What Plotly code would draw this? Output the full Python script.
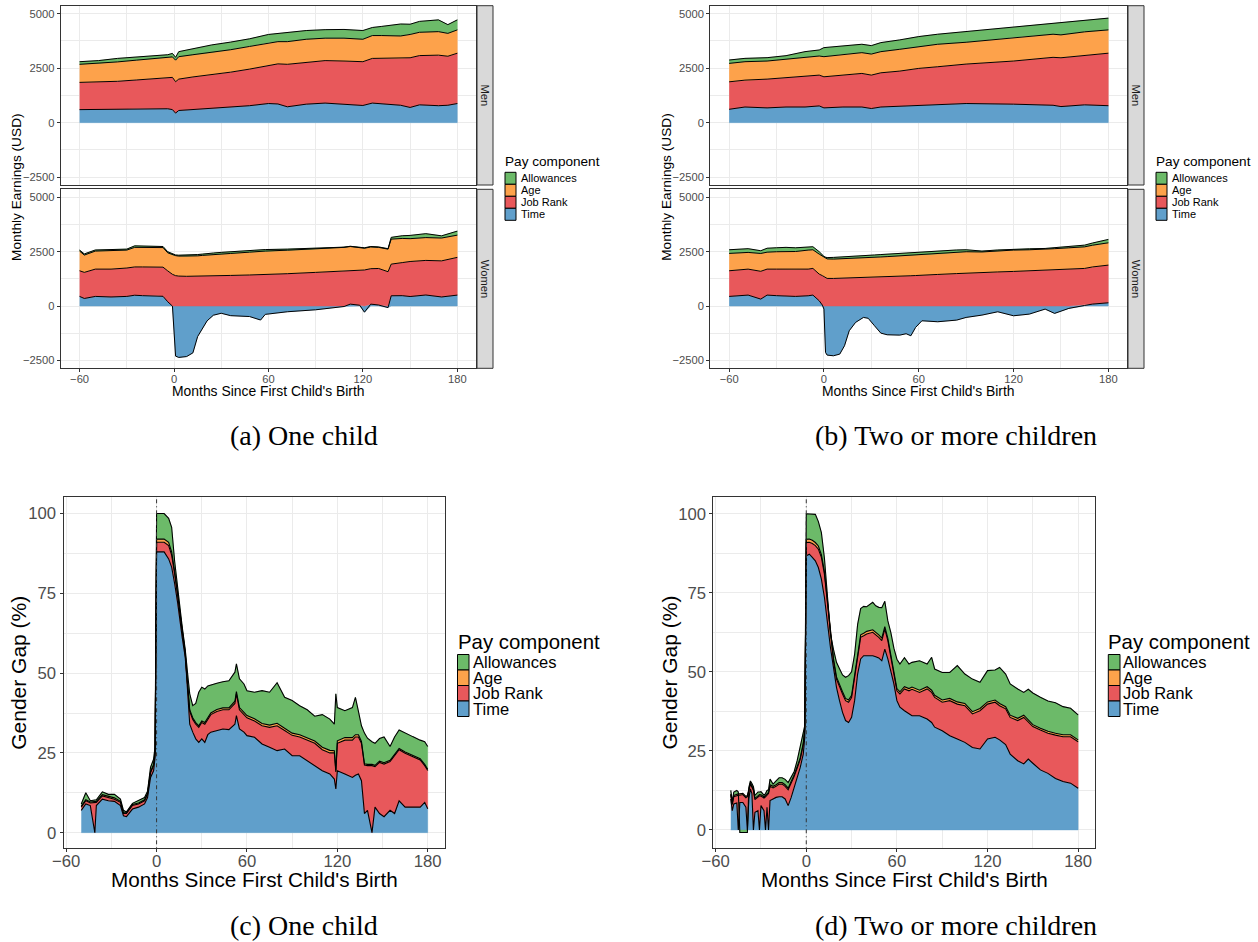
import plotly.graph_objects as go

W, H = 1258, 942
FONT = "Liberation Sans"
SERIF = "Liberation Serif"

COMPONENTS = ["Time", "Job Rank", "Age", "Allowances"]
FILLS = ["#609FCB", "#E8585B", "#FDA24B", "#6CBA69"]
LEGEND_ITEMS = ["Allowances", "Age", "Job Rank", "Time"]
LEGEND_FILLS = ["#6CBA69", "#FDA24B", "#E8585B", "#609FCB"]

X_TICKS = [-60, 0, 60, 120, 180]
X_MINOR = [-30, 30, 90, 150]
EARN_TICKS = [-2500, 0, 2500, 5000]
EARN_MINOR = [-1250, 1250, 3750]
GAP_TICKS = [0, 25, 50, 75, 100]
GAP_MINOR = [12.5, 37.5, 62.5, 87.5]

# ---------------- (a) One child : Men (USD) ----------------
a_men_month = [-60, -48, -36, -24, -12, -4, -1, 1, 3, 12, 24, 36, 48, 60, 66, 72, 84, 96, 108, 120,
               126, 132, 144, 150, 156, 168, 174, 180]
a_men_time = [600, 610, 620, 640, 650, 640, 600, 440, 560, 600, 650, 700, 780, 880, 860, 730, 850, 900, 860, 790,
              900, 870, 800, 700, 820, 780, 800, 880]
a_men_jobrank = [1250, 1260, 1280, 1320, 1370, 1420, 1480, 1440, 1440, 1500, 1550, 1620, 1680, 1760, 1840, 1950,
                 1930, 1950, 1970, 2010, 2050, 2080, 2150, 2280, 2260, 2320, 2250, 2310]
a_men_age = [830, 850, 890, 910, 920, 930, 940, 990, 1030, 1020, 1020, 1030, 1040, 1030, 1020, 1040, 1050, 1030,
             1050, 1030, 1050, 1050, 1030, 1070, 1070, 1080, 1050, 1070]
a_men_allow = [120, 130, 160, 140, 150, 130, 160, 130, 230, 280, 350, 350, 350, 380, 380, 430, 400, 390, 400, 400,
               370, 420, 550, 470, 500, 540, 400, 460]

# ---------------- (a) One child : Women (USD) ----------------
a_wom_month = [-60, -57, -50, -40, -30, -25, -20, -10, -7, -4, -1, 1, 3, 8, 12, 15, 18, 21, 25, 30, 36, 48, 55,
               58, 72, 90, 108, 112, 118, 121, 125, 130, 136, 138, 145, 150, 160, 170, 180]
a_wom_time = [445, 350, 445, 420, 445, 500, 480, 480, 450, 200, 0, -2300, -2360, -2320, -2150, -1400, -1060, -680,
              -420, -330, -440, -480, -640, -380, -260, -170, -20, 90, 40, -280, 90, 50, -70, 475, 480, 440, 510,
              420, 505]
a_wom_jobrank = [1180, 1200, 1255, 1280, 1305, 1300, 1320, 1320, 1340, 1420, 1460, 1400, 1380, 1370, 1380, 1380,
                 1390, 1390, 1395, 1395, 1410, 1430, 1440, 1450, 1490, 1550, 1620, 1560, 1600, 1660, 1630, 1680,
                 1580, 1455, 1520, 1610, 1590, 1660, 1735]
a_wom_age = [905, 795, 830, 840, 825, 900, 900, 920, 900, 830, 890, 920, 920, 920, 920, 930, 940, 960, 975, 995,
             1010, 1050, 1080, 1080, 1080, 1070, 1080, 1090, 1060, 1000, 1000, 970, 1040, 1150, 1110, 1050, 1050,
             1050, 1023]
a_wom_allow = [45, 55, 50, 60, 45, 70, 70, 50, 50, 50, 50, 30, 40, 50, 60, 60, 60, 70, 70, 80, 80, 70, 60, 70, 50,
               30, 10, 10, 10, 20, 20, 20, 20, 80, 125, 150, 180, 100, 184]

# ---------------- (b) Two or more children : Men (USD) ----------------
b_men_month = [-60, -50, -36, -24, -12, -3, 0, 12, 24, 30, 36, 48, 60, 72, 90, 120, 145, 150, 165, 180]
b_men_time = [615, 720, 680, 720, 720, 770, 680, 720, 720, 650, 720, 760, 800, 840, 880, 850, 800, 740, 820, 780]
b_men_jobrank = [1261, 1233, 1320, 1340, 1418, 1414, 1427, 1460, 1541, 1534, 1570, 1609, 1692, 1728, 1811, 1980,
                 2200, 2240, 2280, 2410]
b_men_age = [846, 847, 830, 862, 862, 877, 923, 958, 954, 966, 971, 1000, 1000, 1032, 1001, 1077, 1061, 1050, 1070,
             1070]
b_men_allow = [154, 153, 154, 154, 261, 277, 415, 400, 385, 388, 415, 431, 461, 461, 492, 477, 477, 540, 530, 540]

# ---------------- (b) Two or more children : Women (USD) ----------------
b_wom_month = [-60, -55, -48, -40, -36, -30, -24, -18, -10, -7, -3, -1, 0, 1, 2, 6, 10, 13, 16, 20, 25, 28, 32,
               36, 40, 48, 52, 55, 58, 62, 72, 84, 90, 100, 110, 120, 130, 140, 146, 155, 165, 170, 180]
b_wom_time = [445, 475, 506, 322, 506, 480, 475, 445, 475, 506, 245, 46, -138, -2130, -2253, -2284, -2207, -1824,
              -1134, -751, -521, -560, -905, -1242, -1318, -1334, -1270, -1364, -981, -675, -720, -644, -521, -414,
              -261, -445, -368, -138, -336, -106, 30, 92, 152]
b_wom_jobrank = [1180, 1185, 1194, 1278, 1194, 1220, 1225, 1235, 1225, 1226, 1225, 1354, 1364, 1290, 1272, 1272,
                 1280, 1285, 1290, 1295, 1305, 1310, 1320, 1330, 1340, 1370, 1385, 1395, 1405, 1425, 1455, 1495,
                 1518, 1540, 1570, 1594, 1620, 1650, 1670, 1700, 1702, 1708, 1732]
b_wom_age = [797, 780, 768, 820, 780, 800, 820, 830, 875, 858, 920, 890, 874, 910, 898, 889, 890, 895, 900, 905,
             915, 920, 925, 930, 935, 940, 940, 940, 940, 940, 945, 965, 982, 950, 970, 981, 970, 960, 970, 980,
             993, 1000, 1026]
b_wom_allow = [168, 160, 172, 125, 180, 183, 180, 170, 125, 140, 110, 40, 46, 50, 60, 77, 80, 80, 80, 90, 100, 100,
               105, 110, 115, 120, 125, 125, 135, 135, 130, 120, 90, 40, 40, 45, 45, 40, 50, 60, 78, 100, 155]

# ---------------- (c) One child : Gender gap (%) ----------------
c_month = [-50, -47, -44, -41, -40, -36, -32, -28, -24, -22, -20, -16, -12, -8, -6, -4, -2, -1, 0, 5,
           8, 10, 12, 14, 17, 19, 20, 21, 22, 24, 26, 28, 30, 32, 34, 36, 40, 44, 48, 52,
           53, 55, 58, 60, 65, 70, 75, 80, 85, 90, 95, 100, 105, 110, 115, 118, 119, 120, 125, 130,
           132, 134, 136, 138, 140, 143, 145, 148, 151, 155, 158, 161, 165, 170, 175, 178, 180]
c_time = [7, 9, 8.5, 0, 8.5, 10.5, 10, 9.8, 8.5, 5.3, 5, 7.4, 8, 9, 11, 17.3, 19.4, 23.6, 88, 88,
          85.8, 83.2, 78, 72, 61.2, 55, 48.7, 40.3, 34, 31.5, 29.4, 28.3, 29.4, 28.3, 30.7, 31.5, 32, 32.5, 32.3, 34,
          36.7, 32.5, 31.5, 30.4, 29.9, 27.8, 26.8, 25.7, 26.2, 24.1, 24.1, 22.6, 21, 19.4, 18.4, 16.8, 13.7, 19.4,
          18.4, 17.3, 18, 18.4, 16.3, 6, 7, 0, 8, 6, 5, 7, 6, 10, 8, 8, 8, 9.5, 7.5]
c_jobrank = [1, 1, 0.8, 9.3, 1, 1, 1, 0.7, 1, 0.7, 1, 1.1, 1, 1, 1, 1.5, 1.6, 1.4, 3, 3,
             4.2, 3.8, 3, 2.5, 1.8, 1, 0.8, 1.7, 4, 4, 4.6, 4.7, 5.1, 5.7, 4.8, 5.5, 6, 6, 6.2, 6.5,
             6.8, 6, 5.5, 5.6, 5.1, 5.7, 6.2, 7.8, 5.8, 6.4, 5.9, 6.4, 7, 6.6, 6.6, 8.2, 5.3, 8.6, 10.6, 11.7,
             12, 11.6, 11.7, 15.2, 14, 21, 12.7, 16, 16.5, 15.3, 18, 16, 16.9, 15.8, 14.8, 11.5, 12]
c_age = [0.3, 0.3, 0.3, 0.3, 0.3, 0.4, 0.4, 0.4, 0.3, 0.2, 0.2, 0.3, 0.3, 0.3, 0.3, 0.3, 0.4, 0.4, 1, 1,
         1, 1, 0.8, 0.5, 0.4, 0.5, 0.5, 0.5, 0.5, 0.5, 0.5, 0.5, 0.5, 0.5, 0.5, 0.5, 0.6, 0.6, 0.6, 0.7,
         0.7, 0.7, 0.7, 0.7, 0.7, 0.7, 0.7, 0.8, 0.7, 0.7, 0.7, 0.7, 0.7, 0.8, 0.8, 0.7, 0.5, 0.8, 0.8, 0.8,
         0.7, 0.7, 0.6, 0.4, 0.4, 0.4, 0.4, 0.4, 0.4, 0.4, 0.4, 0.4, 0.4, 0.4, 0.4, 0.4, 0.4]
c_allow = [0.7, 2.2, 0.4, 0.6, 0.5, 0.9, 0.6, 1.1, 0.7, 0.8, 0.3, 0.4, 0.7, 0.7, 0.7, 1.4, 1.6, 1.6, 8, 8,
           7.5, 7.7, 3.2, 1, 1.1, 1, 1.5, 5.5, 5, 3.8, 6, 10.5, 10.6, 10.5, 10, 8.7, 8.2, 8.2, 8.5, 9.1,
           8.7, 9, 8.9, 7.8, 8.3, 10.3, 10.3, 12.7, 9.7, 10.2, 9.1, 8.8, 7.8, 10.2, 9.8, 8.3, 24, 10.4, 8.4, 9.4,
           11.7, 7.3, 4.9, 9.6, 8.2, 7.1, 6.9, 7.1, 8.1, 4.3, 5.6, 5.8, 5.9, 5.9, 5.8, 7.1, 7.1]

# ---------------- (d) Two or more children : Gender gap (%) ----------------
d_month = [-50, -49, -48, -46, -45, -44, -42, -40, -39, -38, -37, -36, -35, -34, -32, -31, -30, -28, -27, -26,
           -25, -24, -22, -20, -18, -16, -14, -12, -10, -8, -6, -4, -2, -1, 0, 2, 4, 6, 8, 10,
           12, 14, 16, 18, 20, 22, 24, 26, 28, 30, 32, 34, 36, 38, 40, 44, 46, 48, 50, 52,
           54, 56, 58, 60, 62, 65, 68, 70, 75, 80, 83, 85, 90, 95, 100, 105, 110, 115, 120, 125,
           128, 132, 135, 140, 144, 147, 150, 155, 160, 165, 170, 175, 180]
d_time = [9.8, 6.1, 8.2, 8.5, 0, 8.7, 8.7, 7.2, 0, 10, 13, 11.5, 0, 5.6, 6.1, 0, 7.7, 6.1, 0, 7.2,
          0, 9.3, 9.8, 10.3, 10.5, 10.5, 9.8, 7.7, 10.3, 13.5, 16.6, 19.8, 24, 29.3, 86.7, 87.2, 86.2, 85.1, 83, 79.3,
          73.6, 65.1, 57.7, 51.4, 45.1, 40.9, 37.2, 34.6, 34, 35.6, 40.9, 49.3, 54.1, 55.1, 55.1, 55.1, 54.8, 54.4,
          53.5, 57.2, 54.1, 50.4, 46.2, 40.9, 38.8, 37.7, 36.7, 36.1, 36.1, 35.1, 34, 32.5, 31.4, 29.8, 28.8, 27.7,
          26.1, 25.6, 28.8, 29.3, 28.5, 27, 24, 21.9, 20.9, 22.4, 21.1, 19, 17.9, 16.3, 15.3, 14.8, 13.2]
d_jobrank = [1.2, 1.9, 2.3, 2.5, 11, 2.3, 2.5, 3, 10.5, 2.5, 1.5, 2, 12.5, 4, 4.5, 10.8, 3, 4, 10.5, 4,
             11.5, 4.5, 3.5, 3.5, 4, 4, 4, 5, 4.5, 3.5, 3, 2.5, 3, 2.2, 4.2, 3.8, 4.4, 4.8, 5.8, 6.9,
             7.3, 6.3, 3.2, 2.1, 2.6, 4.2, 5.8, 6.3, 6.4, 6.3, 7.4, 6.3, 6.8, 6.3, 6.9, 7.4, 7, 6.5, 6.4, 6.3,
             5.8, 4.2, 3.1, 3.1, 4.2, 6.9, 7.3, 8.4, 7.4, 9.5, 9.5, 9.4, 9, 11.1, 11, 11.6, 10.6, 12.1, 11, 11.1,
             10.8, 11.3, 11.6, 12.7, 14.7, 11.6, 11.6, 12.6, 12.7, 13.7, 14.2, 14.7, 14.7]
d_age = [0.4, 0.3, 0.4, 0.4, 0.4, 0.4, 0.4, 0.4, 0.4, 0.4, 0.4, 0.4, 0.4, 0.4, 0.4, 0.4, 0.4, 0.4, 0.4, 0.4,
         0.4, 0.5, 0.5, 0.5, 0.5, 0.5, 0.5, 0.5, 0.5, 0.5, 0.5, 0.5, 0.5, 0.5, 1, 1, 1, 1, 1, 0.9,
         0.8, 0.7, 0.7, 0.7, 0.7, 0.7, 0.7, 0.7, 0.7, 0.7, 0.7, 0.7, 0.8, 0.8, 0.8, 0.8, 0.8, 0.8, 0.8, 0.8,
         0.7, 0.7, 0.7, 0.7, 0.7, 0.7, 0.7, 0.7, 0.7, 0.7, 0.7, 0.7, 0.7, 0.7, 0.7, 0.7, 0.7, 0.7, 0.7, 0.7,
         0.7, 0.7, 0.7, 0.7, 0.7, 0.7, 0.6, 0.6, 0.6, 0.6, 0.6, 0.6, 0.6]
d_allow = [1.1, 0.7, 1.1, 1.1, 0.6, -0.8, -0.8, -0.8, -0.8, 0.6, 0.6, 0.8, 0.8, 0.9, 1, 0.8, 1, 0.5, 0.6, 0.9,
           0.8, 1.8, 0.7, 1.2, 1.5, 1.5, 1.7, 1.8, 1.7, 1, 1.9, 3.2, 2.5, 1, 8.1, 8, 8.4, 8.9, 7.7, 6.9,
           4.3, 0.9, 0.4, 2.9, 4.6, 5.2, 5.3, 6.7, 7.7, 7.4, 6.5, 8.7, 8.3, 8.5, 7.8, 8.7, 8.3, 8.7, 9.6, 8,
           5.5, 7.1, 7.5, 9.3, 8.8, 9.2, 7.8, 7.8, 9.3, 7.2, 10.4, 8.3, 8.7, 8.2, 11.5, 9.3, 10.3, 8.3, 9.9, 9.5,
           11.4, 10.3, 9.9, 9.3, 7.2, 9.8, 10, 9.8, 9.6, 9.6, 8.9, 8.4, 7.9]


def px_x(a, b):
    return [a / W, b / W]


def px_y(top, bottom):
    return [1 - bottom / H, 1 - top / H]


def stack(components):
    n = len(components[0])
    pos = [0.0] * n
    neg = [0.0] * n
    layers = []
    for vals in components:
        lo, hi, edge = [], [], []
        for i, v in enumerate(vals):
            if v >= 0:
                lo.append(pos[i]); pos[i] += v; hi.append(pos[i]); edge.append(pos[i])
            else:
                hi.append(neg[i]); neg[i] += v; lo.append(neg[i]); edge.append(neg[i])
        layers.append((lo, hi, edge))
    return layers


fig = go.Figure()


def add_panel(months, comps, xa, ya, lw):
    layers = stack(comps)
    for (lo, hi, edge), color, name in zip(layers, FILLS, COMPONENTS):
        fig.add_trace(go.Scatter(x=list(months) + list(months)[::-1], y=hi + lo[::-1], fill="toself",
                                 fillcolor=color, mode="lines", line=dict(width=0.4, color=color),
                                 hoverinfo="skip", showlegend=False, name=name, xaxis=xa, yaxis=ya))
    for (lo, hi, edge), name in zip(layers, COMPONENTS):
        fig.add_trace(go.Scatter(x=months, y=edge, mode="lines", line=dict(color="black", width=lw),
                                 showlegend=False, name=name, xaxis=xa, yaxis=ya))


add_panel(a_men_month, [a_men_time, a_men_jobrank, a_men_age, a_men_allow], "x", "y", 1.0)
add_panel(a_wom_month, [a_wom_time, a_wom_jobrank, a_wom_age, a_wom_allow], "x2", "y2", 1.0)
add_panel(b_men_month, [b_men_time, b_men_jobrank, b_men_age, b_men_allow], "x3", "y3", 1.0)
add_panel(b_wom_month, [b_wom_time, b_wom_jobrank, b_wom_age, b_wom_allow], "x4", "y4", 1.0)
add_panel(c_month, [c_time, c_jobrank, c_age, c_allow], "x5", "y5", 1.1)
add_panel(d_month, [d_time, d_jobrank, d_age, d_allow], "x6", "y6", 1.1)


def axis_cfg(dom, anchor, rng, tickvals, minorvals, labels, size, standoff=0):
    return dict(domain=dom, anchor=anchor, range=rng, tickmode="array", tickvals=tickvals,
                showticklabels=labels, ticks="outside" if labels else "", ticklen=3, tickwidth=1,
                tickcolor="#333333", tickfont=dict(family=FONT, size=size, color="#4D4D4D"),
                ticklabelstandoff=standoff,
                showline=True, mirror=True, linecolor="#333333", linewidth=1,
                showgrid=True, gridcolor="#EBEBEB", gridwidth=1.1, zeroline=False, automargin=False,
                minor=dict(tickmode="array", tickvals=minorvals, showgrid=True, gridcolor="#EBEBEB",
                           gridwidth=0.6, ticks=""),
                fixedrange=True, layer="below traces")


TOP_X_RANGE = [-72, 192]
EARN_RANGE = [-2860, 5370]
A_X = px_x(60.7, 476.2)
B_X = px_x(710.2, 1127.3)
MEN_Y = px_y(5.7, 185)
WOM_Y = px_y(189.3, 368.3)
BOT_Y = px_y(497.3, 848.3)

layout = dict(
    width=W, height=H, margin=dict(l=0, r=0, t=0, b=0, pad=0), autosize=False,
    paper_bgcolor="white", plot_bgcolor="white", showlegend=False,
    xaxis=axis_cfg(A_X, "y", TOP_X_RANGE, X_TICKS, X_MINOR, False, 11.2),
    yaxis=axis_cfg(MEN_Y, "x", EARN_RANGE, EARN_TICKS, EARN_MINOR, True, 11.2),
    xaxis2=axis_cfg(A_X, "y2", TOP_X_RANGE, X_TICKS, X_MINOR, True, 11.2, -3),
    yaxis2=axis_cfg(WOM_Y, "x2", EARN_RANGE, EARN_TICKS, EARN_MINOR, True, 11.2),
    xaxis3=axis_cfg(B_X, "y3", TOP_X_RANGE, X_TICKS, X_MINOR, False, 11.2),
    yaxis3=axis_cfg(MEN_Y, "x3", EARN_RANGE, EARN_TICKS, EARN_MINOR, True, 11.2),
    xaxis4=axis_cfg(B_X, "y4", TOP_X_RANGE, X_TICKS, X_MINOR, True, 11.2, -3),
    yaxis4=axis_cfg(WOM_Y, "x4", EARN_RANGE, EARN_TICKS, EARN_MINOR, True, 11.2),
    xaxis5=axis_cfg(px_x(63.5, 445.2), "y5", [-61.8, 191.6], X_TICKS, X_MINOR, True, 16.7, -5),
    yaxis5=axis_cfg(BOT_Y, "x5", [-4.9, 105.1], GAP_TICKS, GAP_MINOR, True, 16.7),
    xaxis6=axis_cfg(px_x(713.4, 1095.2), "y6", [-61.5, 191.3], X_TICKS, X_MINOR, True, 16.7, -5),
    yaxis6=axis_cfg(BOT_Y, "x6", [-5.8, 105.2], GAP_TICKS, GAP_MINOR, True, 16.7),
)

shapes = []
annotations = []


def ann(text, x, y, size, angle=0, family=FONT, color="#000000", xanchor="center"):
    annotations.append(dict(text=text, x=x / W, y=1 - y / H, xref="paper", yref="paper", showarrow=False,
                            font=dict(family=family, size=size, color=color), textangle=angle,
                            xanchor=xanchor, yanchor="middle"))


def rect(x0, x1, y0, y1, fill, line="#333333", lw=1):
    shapes.append(dict(type="rect", xref="paper", yref="paper", x0=x0 / W, x1=x1 / W,
                       y0=1 - y1 / H, y1=1 - y0 / H, fillcolor=fill, line=dict(color=line, width=lw),
                       layer="above"))


# facet strips
for sx0, sx1 in [(477, 493), (1128, 1144)]:
    rect(sx0, sx1, 5.7, 185, "#D9D9D9")
    rect(sx0, sx1, 189.3, 368.3, "#D9D9D9")
    ann("Men", (sx0 + sx1) / 2, 95.5, 11.2, angle=90, color="#1A1A1A")
    ann("Women", (sx0 + sx1) / 2, 278.8, 11.2, angle=90, color="#1A1A1A")

# axis titles
ann("Monthly Earnings (USD)", 16, 187, 13.7, angle=-90)
ann("Monthly Earnings (USD)", 665.8, 187, 13.7, angle=-90)
ann("Months Since First Child's Birth", 268.4, 390.5, 13.9)
ann("Months Since First Child's Birth", 918.8, 390.5, 13.9)
ann("Gender Gap (%)", 19, 672.8, 21, angle=-90)
ann("Gender Gap (%)", 669.8, 672.8, 21, angle=-90)
ann("Months Since First Child's Birth", 254.3, 879.5, 20.7)
ann("Months Since First Child's Birth", 904.3, 879.5, 20.7)


def legend(title_x, title_y, key_x0, key_x1, key_top, key_h, label_x, tsize, lsize):
    ann("Pay component", title_x, title_y, tsize, xanchor="left")
    for k, (name, col) in enumerate(zip(LEGEND_ITEMS, LEGEND_FILLS)):
        y0 = key_top + k * key_h
        rect(key_x0, key_x1, y0, y0 + key_h, col, line="#000000", lw=1)
        ann(name, label_x, y0 + key_h / 2, lsize, xanchor="left")


legend(502.5, 162, 505, 516, 172.3, 12, 518.5, 13.6, 11)
legend(1153.5, 162, 1156, 1167, 172.3, 12, 1169.5, 13.6, 11)
legend(455.5, 641.7, 457.5, 469, 654.5, 15.5, 471, 20.4, 16.5)
legend(1106.3, 641.7, 1108.3, 1120, 654.5, 15.5, 1121.3, 20.4, 16.5)

# vertical reference line at birth
for xr, yr in [("x5", "y5"), ("x6", "y6")]:
    shapes.append(dict(type="line", xref=xr, yref=yr + " domain", x0=0, x1=0, y0=0, y1=1,
                       line=dict(color="#333333", width=1, dash="1px,3px,4px,3px"), layer="above"))

# captions
ann("(a) One child", 304, 435, 28, family=SERIF)
ann("(b) Two or more children", 956, 435, 28, family=SERIF)
ann("(c) One child", 304, 925.5, 28, family=SERIF)
ann("(d) Two or more children", 956, 925.5, 28, family=SERIF)

layout["shapes"] = shapes
layout["annotations"] = annotations
fig.update_layout(**layout)
fig.write_html("out.html", config={"displayModeBar": False},
               post_script="document.body.style.margin='0';document.body.style.padding='0';")
